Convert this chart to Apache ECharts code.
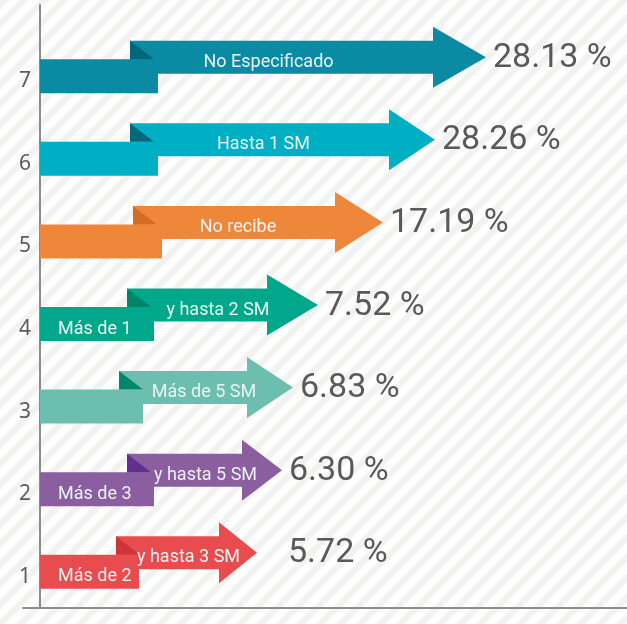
<!DOCTYPE html>
<html>
<head>
<meta charset="utf-8">
<script src="https://cdn.jsdelivr.net/npm/echarts@6/dist/echarts.min.js"></script>
<style>
  html, body { margin: 0; padding: 0; background: #fff; }
  #chart { width: 627px; height: 624px; }
</style>
</head>
<body>
<div id="chart"></div>
<script>
// categorias y valores
var categories = ['1', '2', '3', '4', '5', '6', '7'];
var percentValues = [5.72, 6.30, 6.83, 7.52, 17.19, 28.26, 28.13];
var tailLabels = ['Más de 2', 'Más de 3', '', 'Más de 1', '', '', ''];
var arrowLabels = ['y hasta 3 SM', 'y hasta 5 SM', 'Más de 5 SM', 'y hasta 2 SM', 'No recibe', 'Hasta 1 SM', 'No Especificado'];
// tramos de cada flecha sobre el eje x
var tailEnd = [99, 114, 103, 114, 122, 118, 118];
var arrowStart = [76, 87, 79, 87, 93, 90, 90];
var headBase = [179, 202, 207, 227, 295, 349, 393];
var arrowTip = [217, 242, 253, 278, 343, 395, 446];

var mainColors = ['#e84c4e', '#8a5e9f', '#6cbeae', '#00a78a', '#ef873b', '#00afc3', '#0a8aa3'];
var foldColors = ['#cf3537', '#60308f', '#00866a', '#00846a', '#d56c25', '#03687a', '#00677a'];

// fondo rayado
function stripes() {
    var c = document.createElement('canvas');
    c.width = 20;
    c.height = 20;
    var ctx = c.getContext('2d');
    ctx.fillStyle = '#ffffff';
    ctx.fillRect(0, 0, 20, 20);
    ctx.fillStyle = '#f2f2f1';
    for (var k = 0; k <= 40; k += 20) {
        ctx.beginPath();
        ctx.moveTo(k, 0);
        ctx.lineTo(k + 9, 0);
        ctx.lineTo(k + 9 - 20, 20);
        ctx.lineTo(k - 20, 20);
        ctx.closePath();
        ctx.fill();
    }
    return c;
}

var seriesData = [];
for (var i = 0; i < categories.length; i++) {
    seriesData.push([i, 0, tailEnd[i], arrowStart[i], headBase[i], arrowTip[i]]);
}

function renderArrow(params, api) {
    var idx = api.value(0);
    var yc = api.coord([0, idx])[1];
    var x0 = api.coord([api.value(1), idx])[0];
    var xTail = api.coord([api.value(2), idx])[0];
    var xStart = api.coord([api.value(3), idx])[0];
    var xBase = api.coord([api.value(4), idx])[0];
    var xTip = api.coord([api.value(5), idx])[0];
    // los valores cortos quedan alineados a partir de 248 en el eje
    var xValue = Math.max(xTip + 7, api.coord([248, idx])[0]);

    var tailH = 34, bodyH = 33, headH = 61;
    var tailC = yc - 5;
    var bodyC = yc - 24;
    var bodyTop = bodyC - bodyH / 2;
    var tailTop = tailC - tailH / 2;
    var color = mainColors[idx];
    var len = xBase - xStart;
    var shift = len < 150 ? 21 : (len > 280 ? -13 : 4);
    var labelX = (xStart + xBase) / 2 + shift;

    var children = [
        {
            type: 'rect',
            shape: { x: xStart, y: bodyTop, width: xBase - xStart + 1, height: bodyH },
            style: { fill: color }
        },
        {
            type: 'polygon',
            shape: { points: [[xBase, bodyC - headH / 2], [xTip, bodyC], [xBase, bodyC + headH / 2]] },
            style: { fill: color }
        },
        {
            type: 'polygon',
            shape: { points: [[xStart, bodyTop], [xStart, tailTop], [xStart + 24, tailTop]] },
            style: { fill: foldColors[idx] }
        },
        {
            type: 'rect',
            shape: { x: x0, y: tailTop, width: xTail - x0, height: tailH },
            style: { fill: color }
        },
        {
            type: 'text',
            style: {
                x: labelX, y: bodyC + 5, text: arrowLabels[idx],
                fill: '#eaf4f4', font: '18px Roboto', align: 'center', verticalAlign: 'middle'
            }
        },
        {
            type: 'text',
            style: {
                x: xValue, y: bodyC + 1, text: percentValues[idx].toFixed(2) + ' %',
                fill: '#595959', font: '34px Roboto', align: 'left', verticalAlign: 'middle'
            }
        }
    ];
    if (tailLabels[idx]) {
        children.push({
            type: 'text',
            style: {
                x: x0 + 18, y: tailC + 5, text: tailLabels[idx],
                fill: '#eaf4f4', font: '18px Roboto', align: 'left', verticalAlign: 'middle'
            }
        });
    }
    return { type: 'group', children: children };
}

var myChart = echarts.init(document.getElementById('chart'));
var option = {
    backgroundColor: { image: stripes(), repeat: 'repeat' },
    animation: false,
    grid: [
        { left: 40, right: 0, top: 40, bottom: 6 },
        { left: 23, right: 0, top: 5, bottom: 16 }
    ],
    xAxis: [
        {
            gridIndex: 0, type: 'value', min: 0, max: 587,
            axisLine: { show: false }, axisTick: { show: false },
            axisLabel: { show: false }, splitLine: { show: false }
        },
        {
            gridIndex: 1, type: 'value', min: 0, max: 1,
            axisLine: { show: true, onZero: false, lineStyle: { color: '#8c8c8c', width: 2 } },
            axisTick: { show: false }, axisLabel: { show: false }, splitLine: { show: false }
        }
    ],
    yAxis: [
        {
            gridIndex: 0, type: 'category', data: categories,
            axisLine: { show: false }, axisTick: { show: false }, splitLine: { show: false },
            axisLabel: { margin: 9, fontSize: 21, color: '#5b5b5b', fontFamily: 'Noto Sans', padding: [6, 0, 0, 0] }
        },
        {
            gridIndex: 1, type: 'value', min: 0, max: 1, offset: -17,
            axisLine: { show: true, onZero: false, lineStyle: { color: '#8c8c8c', width: 2 } },
            axisTick: { show: false }, axisLabel: { show: false }, splitLine: { show: false }
        }
    ],
    series: [
        {
            type: 'custom',
            xAxisIndex: 0,
            yAxisIndex: 0,
            renderItem: renderArrow,
            encode: { y: 0, x: [1, 2, 3, 4, 5] },
            data: seriesData,
            z: 1
        }
    ]
};
myChart.setOption(option);
</script>
</body>
</html>
